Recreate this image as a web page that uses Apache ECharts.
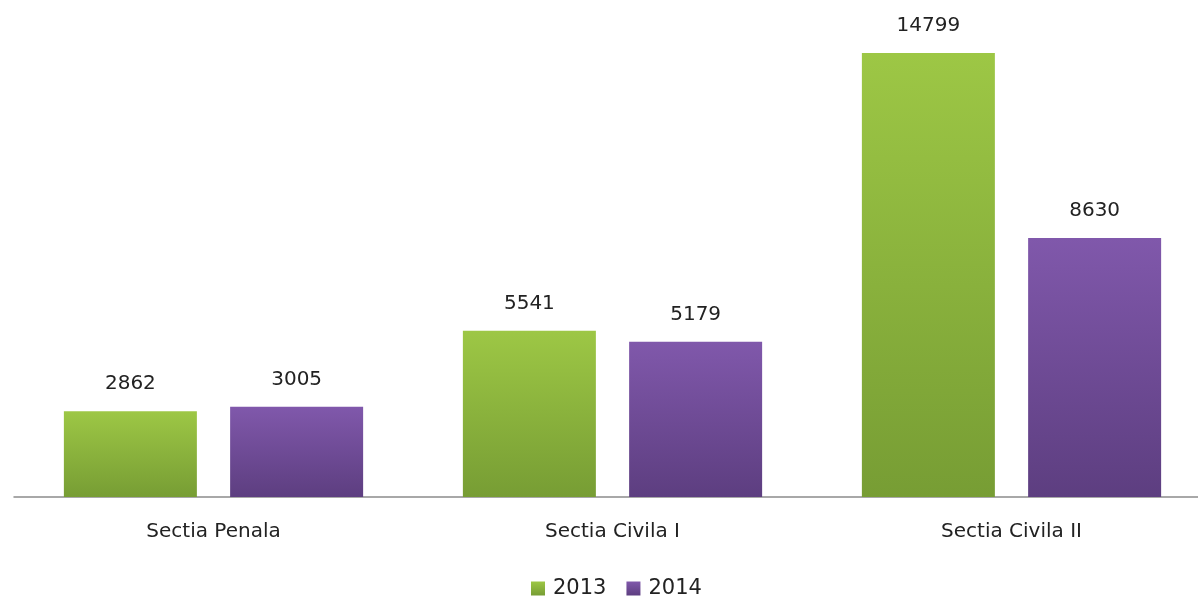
<!DOCTYPE html>
<html><head><meta charset="utf-8">
<script src="https://cdn.jsdelivr.net/npm/echarts@6/dist/echarts.min.js"></script>
<style>html,body{margin:0;padding:0;background:#fff}#c{width:1198px;height:600px}</style>
</head><body><div id="c"></div>
<script>
const categories = ['Sectia Penala', 'Sectia Civila I', 'Sectia Civila II'];
const values2013 = [2862, 5541, 14799];
const values2014 = [3005, 5179, 8630];
const seriesNames = ['2013', '2014'];

const font = 'DejaVu Sans';
const chart = echarts.init(document.getElementById('c'));
function grad(top, bottom) {
  return new echarts.graphic.LinearGradient(0, 0, 0, 1, [{offset: 0, color: top}, {offset: 1, color: bottom}]);
}
const lbl = {show: true, position: 'top', distance: 17, fontFamily: font, fontSize: 20, color: '#222'};
chart.setOption({
  animation: false,
  grid: {left: 14, width: 1197, top: 47, bottom: 103, outerBoundsMode: 'none', containLabel: false},
  legend: {
    top: 578, left: 531, icon: 'rect', itemWidth: 14, itemHeight: 14, itemGap: 20, padding: 0,
    textStyle: {fontFamily: font, fontSize: 21, color: '#222', padding: [0, 0, 0, 3]},
    data: seriesNames
  },
  xAxis: {
    type: 'category', data: categories,
    axisLine: {lineStyle: {color: '#8c8c8c', width: 1.5}},
    axisTick: {show: false},
    axisLabel: {fontFamily: font, fontSize: 20, color: '#222', margin: 25}
  },
  yAxis: {type: 'value', min: 0, max: 15000, show: false, splitLine: {show: false}},
  series: [
    {name: seriesNames[0], type: 'bar', data: values2013, barWidth: 133, barGap: '25%',
     itemStyle: {color: grad('#9dc745', '#779d34')}, label: lbl},
    {name: seriesNames[1], type: 'bar', data: values2014, barWidth: 133,
     itemStyle: {color: grad('#8058ab', '#5d3e80')}, label: lbl}
  ]
});
</script></body></html>
